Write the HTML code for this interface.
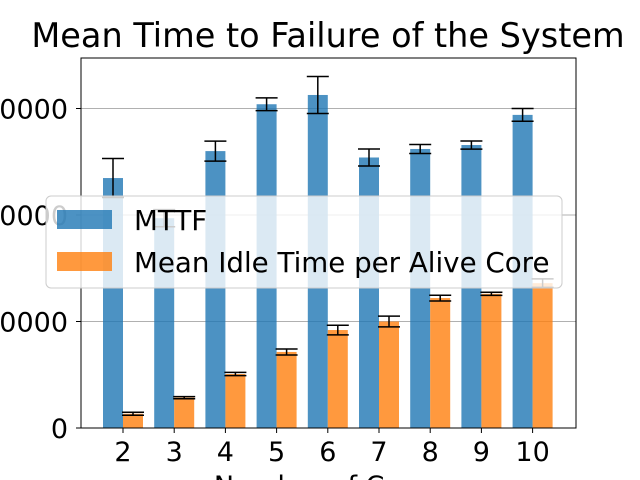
<!DOCTYPE html>
<html><head><meta charset="utf-8"><style>
html,body{margin:0;padding:0;background:#fff;overflow:hidden;}
svg{display:block;font-family:"DejaVu Sans","Liberation Sans",sans-serif;}
</style></head><body>
<svg id="chart" width="640" height="480" viewBox="0 0 640 480">
<text x="328" y="47" font-size="33.5" text-anchor="middle" fill="#000">Mean Time to Failure of the System</text>
<g id="grid"></g>
<g id="bars"></g>
<g id="errs"></g>
<rect x="81" y="58" width="495" height="370" fill="none" stroke="#000" stroke-width="1"/>
<g id="ticks"></g>
<text x="328" y="495" font-size="27" text-anchor="middle">Number of Cores</text>
<g>
<rect x="46" y="196" width="516" height="92" rx="5" fill="#fff" fill-opacity="0.8" stroke="#ccc" stroke-width="1"/>
<rect x="57" y="210" width="55" height="19" fill="#1f77b4" fill-opacity="0.8"/>
<text x="134" y="230" font-size="27.7">MTTF</text>
<rect x="57" y="252" width="55" height="19" fill="#ff7f0e" fill-opacity="0.8"/>
<text x="134" y="272" font-size="27.7">Mean Idle Time per Alive Core</text>
</g>
</svg>
<script>
const categories=[2,3,4,5,6,7,8,9,10];
const mttf=[234700,197000,260000,304000,312700,254000,262000,265700,294000];
const mttfErr=[18300,8000,9400,6000,17400,8000,4200,3800,6000];
const idle=[13400,28500,50700,71400,92000,100000,122000,126000,136000];
const idleErr=[1400,1000,1500,2800,4500,5000,2700,1500,4000];
const yTicks=[0,100000,200000,300000];
const yTickLabels=["0","100000","200000","300000"];
const NS="http://www.w3.org/2000/svg";
const x0=81,x1=576,y0=428,pxPer=106.5/100000;
function y(v){return y0-v*pxPer;}
function xc(i){return 123+i*51.2;}
function mk(tag,attrs,parent){const e=document.createElementNS(NS,tag);for(const k in attrs)e.setAttribute(k,attrs[k]);document.getElementById(parent).appendChild(e);return e;}
yTicks.forEach((t,i)=>{
  if(t>0){const g=mk('line',{x1:x0,x2:x1,y1:y(t),y2:y(t),stroke:'#b0b0b0','stroke-width':1},'grid');
  
  }
  const tk=mk('line',{x1:x0-5,x2:x0,y1:y(t),y2:y(t),stroke:'#000'},'ticks');
  
  
  const tx=mk('text',{x:x0-13,y:y(t)+10,'font-size':27,'text-anchor':'end'},'ticks');
  tx.textContent=yTickLabels[i];
  
  
});
const bw=20;
function err(cx,v,e,name){
  const a={stroke:'#000','stroke-width':1.5};
  const l=mk('line',Object.assign({x1:cx,x2:cx,y1:y(v+e),y2:y(v-e)},a),'errs');
  
  
  [v+e,v-e].forEach(vv=>{const c=mk('line',Object.assign({x1:cx-11,x2:cx+11,y1:y(vv),y2:y(vv)},a),'errs');
  
  });
}
categories.forEach((c,i)=>{
  const cx=xc(i);
  const b=mk('rect',{x:cx-bw,y:y(mttf[i]),width:bw,height:y0-y(mttf[i]),fill:'#1f77b4','fill-opacity':0.8},'bars');
  
  
  const o=mk('rect',{x:cx,y:y(idle[i]),width:bw,height:y0-y(idle[i]),fill:'#ff7f0e','fill-opacity':0.8},'bars');
  
  
  err(cx-bw/2,mttf[i],mttfErr[i],'errorbar-mttf-'+c);
  err(cx+bw/2,idle[i],idleErr[i],'errorbar-idle-'+c);
  const t=mk('line',{x1:cx,x2:cx,y1:y0,y2:y0+5,stroke:'#000'},'ticks');
  
  
  const tl=mk('text',{x:cx,y:y0+33,'font-size':27,'text-anchor':'middle'},'ticks');
  tl.textContent=c;
  
  
});
</script>
</body></html>
